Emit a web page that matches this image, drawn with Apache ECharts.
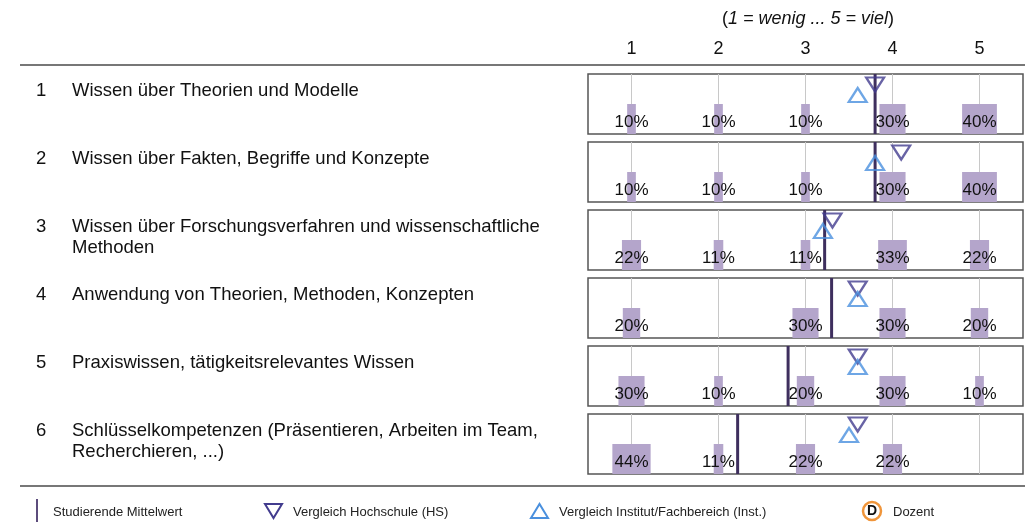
<!DOCTYPE html>
<html>
<head>
<meta charset="utf-8">
<script src="https://cdn.jsdelivr.net/npm/echarts@6/dist/echarts.min.js"></script>
<style>
  html, body { margin: 0; padding: 0; background: #fff; }
  #chart { width: 1033px; height: 523px; }
</style>
</head>
<body>
<div id="chart"></div>
<script>
// Daten aus der Vorlage
const itemNumbers = ['1', '2', '3', '4', '5', '6'];
const itemLabels = [
  'Wissen über Theorien und Modelle',
  'Wissen über Fakten, Begriffe und Konzepte',
  'Wissen über Forschungsverfahren und wissenschaftliche\nMethoden',
  'Anwendung von Theorien, Methoden, Konzepten',
  'Praxiswissen, tätigkeitsrelevantes Wissen',
  'Schlüsselkompetenzen (Präsentieren, Arbeiten im Team,\nRecherchieren, ...)'
];
const scaleValues = [1, 2, 3, 4, 5];
const percentages = [
  [10, 10, 10, 30, 40],
  [10, 10, 10, 30, 40],
  [22, 11, 11, 33, 22],
  [20, 0, 30, 30, 20],
  [30, 10, 20, 30, 10],
  [44, 11, 22, 22, 0]
];
const studentMeans = [3.8, 3.8, 3.22, 3.3, 2.8, 2.22];
const hsMeans = [3.8, 4.1, 3.31, 3.6, 3.6, 3.6];
const instMeans = [3.6, 3.8, 3.2, 3.6, 3.6, 3.5];

const FONT = 'Liberation Sans, Arial, Helvetica, sans-serif';
const BAR_COLOR = '#b4a5cb';
const MEAN_COLOR = '#3e2f5e';
const HS_COLOR = '#423c8e';
const INST_COLOR = '#4a90de';

const chart = echarts.init(document.getElementById('chart'));

const grids = [], xAxes = [], yAxes = [], series = [], graphics = [];

itemLabels.forEach((label, i) => {
  const top = 74 + 68 * i;
  grids.push({
    left: 588, width: 435, top: top, height: 60,
    show: true, borderColor: '#555', borderWidth: 1.5, backgroundColor: 'transparent'
  });
  xAxes.push({
    gridIndex: i, type: 'value', min: 0.5, max: 5.5,
    position: 'top',
    axisLine: { show: false }, axisTick: { show: false }, splitLine: { show: false },
    axisLabel: {
      show: i === 0, customValues: scaleValues, margin: 16,
      color: '#111', fontSize: 18, fontFamily: FONT
    }
  });
  yAxes.push({ gridIndex: i, type: 'value', min: 0, max: 1, show: false });

  // vertikale Hilfslinien
  series.push({
    type: 'custom', xAxisIndex: i, yAxisIndex: i, silent: true, z: 1,
    data: scaleValues.map(v => [v]),
    renderItem: (params, api) => {
      const a = api.coord([api.value(0), 0]);
      const b = api.coord([api.value(0), 1]);
      return { type: 'line', shape: { x1: a[0], y1: a[1], x2: b[0], y2: b[1] },
        style: { stroke: '#c8c8c8', lineWidth: 1 } };
    }
  });

  // Balken (Breite = Anteil)
  series.push({
    type: 'custom', xAxisIndex: i, yAxisIndex: i, silent: true, z: 2,
    data: percentages[i].map((p, j) => [scaleValues[j], p]),
    renderItem: (params, api) => {
      const x = api.value(0), p = api.value(1);
      if (!p) return null;
      const base = api.coord([x, 0]);
      const top = api.coord([x, 0.5]);
      const w = api.size([p / 100, 0])[0];
      const ty = api.coord([x, 0.2])[1];
      return {
        type: 'group',
        children: [
          { type: 'rect', shape: { x: base[0] - w / 2, y: top[1], width: w, height: base[1] - top[1] },
            style: { fill: BAR_COLOR } },
          { type: 'text', x: base[0], y: ty,
            style: { text: p + '%', fill: '#111', font: '17px ' + FONT, align: 'center', verticalAlign: 'middle' } }
        ]
      };
    }
  });

  // Mittelwert Studierende
  series.push({
    type: 'custom', xAxisIndex: i, yAxisIndex: i, silent: true, z: 3,
    data: [[studentMeans[i]]],
    renderItem: (params, api) => {
      const a = api.coord([api.value(0), 0]);
      const b = api.coord([api.value(0), 1]);
      return { type: 'line', shape: { x1: a[0], y1: a[1], x2: b[0], y2: b[1] },
        style: { stroke: MEAN_COLOR, lineWidth: 3 } };
    }
  });

  // Vergleich Hochschule
  series.push({
    type: 'scatter', xAxisIndex: i, yAxisIndex: i, silent: true, z: 4,
    data: [[hsMeans[i], 0.825]],
    symbol: 'triangle', symbolRotate: 180, symbolSize: [18, 14],
    itemStyle: { color: 'rgba(0,0,0,0)', borderColor: HS_COLOR, borderWidth: 2.2 }
  });

  // Vergleich Institut
  series.push({
    type: 'scatter', xAxisIndex: i, yAxisIndex: i, silent: true, z: 4,
    data: [[instMeans[i], 0.65]],
    symbol: 'triangle', symbolSize: [18, 14],
    itemStyle: { color: 'rgba(0,0,0,0)', borderColor: INST_COLOR, borderWidth: 2.2 }
  });

  // Beschriftung links
  graphics.push({
    type: 'text', x: 36, y: top + 6,
    style: { text: itemNumbers[i], font: '18.5px ' + FONT, fill: '#111', lineHeight: 21, verticalAlign: 'top' }
  });
  graphics.push({
    type: 'text', x: 72, y: top + 6,
    style: { text: label, font: '18.5px ' + FONT, fill: '#111', lineHeight: 21, verticalAlign: 'top' }
  });
});

// Kopf und Trennlinien
graphics.push({
  type: 'text', x: 808, y: 19,
  style: {
    text: '{n|(}{i|1 = wenig ... 5 = viel}{n|)}',
    align: 'center', verticalAlign: 'middle',
    rich: {
      n: { font: '18px ' + FONT, fill: '#111' },
      i: { font: 'italic 18px ' + FONT, fill: '#111' }
    }
  }
});
graphics.push({ type: 'line', shape: { x1: 20, y1: 65, x2: 1025, y2: 65 }, style: { stroke: '#777', lineWidth: 2 } });
graphics.push({ type: 'line', shape: { x1: 20, y1: 486, x2: 1025, y2: 486 }, style: { stroke: '#777', lineWidth: 2 } });

// Legende
const legendY = 512;
graphics.push({ type: 'line', shape: { x1: 37, y1: 499, x2: 37, y2: 522 }, style: { stroke: '#5c4c7c', lineWidth: 2 } });
graphics.push({ type: 'text', x: 53, y: legendY, style: { text: 'Studierende Mittelwert', font: '13px ' + FONT, fill: '#222', verticalAlign: 'middle' } });
graphics.push({ type: 'polygon', shape: { points: [[265, 504], [282, 504], [273.5, 518]] }, style: { fill: 'none', stroke: HS_COLOR, lineWidth: 2 } });
graphics.push({ type: 'text', x: 293, y: legendY, style: { text: 'Vergleich Hochschule (HS)', font: '13px ' + FONT, fill: '#222', verticalAlign: 'middle' } });
graphics.push({ type: 'polygon', shape: { points: [[531, 518], [548, 518], [539.5, 504]] }, style: { fill: 'none', stroke: INST_COLOR, lineWidth: 2 } });
graphics.push({ type: 'text', x: 559, y: legendY, style: { text: 'Vergleich Institut/Fachbereich (Inst.)', font: '13px ' + FONT, fill: '#222', verticalAlign: 'middle' } });
graphics.push({ type: 'circle', shape: { cx: 872, cy: 511, r: 9 }, style: { fill: '#fff', stroke: '#f0953a', lineWidth: 2.5 } });
graphics.push({ type: 'text', x: 872, y: 511, style: { text: 'D', font: 'bold 14px ' + FONT, fill: '#111', align: 'center', verticalAlign: 'middle' } });
graphics.push({ type: 'text', x: 893, y: legendY, style: { text: 'Dozent', font: '13px ' + FONT, fill: '#222', verticalAlign: 'middle' } });

chart.setOption({
  animation: false,
  backgroundColor: '#fff',
  grid: grids,
  xAxis: xAxes,
  yAxis: yAxes,
  series: series,
  graphic: graphics
});
</script>
</body>
</html>
